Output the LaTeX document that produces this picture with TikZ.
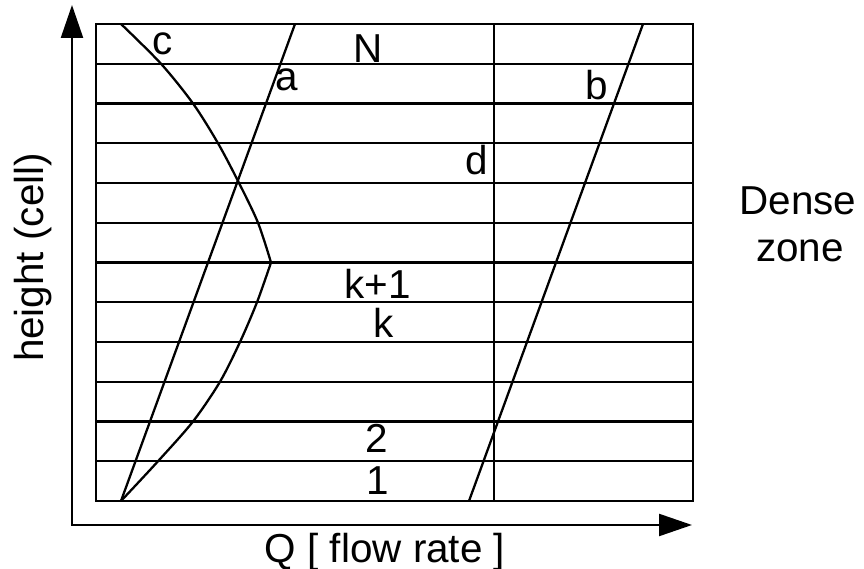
\documentclass[tikz,border=0pt]{standalone}
\usepackage{fontspec}
\setmainfont{Liberation Sans}
\usetikzlibrary{arrows.meta, positioning}

\begin{document}
\begin{tikzpicture}[
        x=1cm, y=1cm,
        grid/.style={line width=1.3pt, black},
        curve/.style={line width=1.3pt, black, line join=round},
        axis/.style={line width=1.3pt, black,
                     {Triangle[length=0.66cm,width=0.44cm]}-{Triangle[length=0.66cm,width=0.44cm]}},
        lbl/.style={inner sep=0pt, anchor=base, font=\fontsize{23}{27}\selectfont},
    ]

    \useasboundingbox (0,0) rectangle (17.28,11.38);

    % ---------- cells ------------------------------------------------------
    \coordinate (bl) at (1.92,1.36);
    \coordinate (tr) at (13.86,10.90);
    \draw[grid] (bl) rectangle (tr);
    \draw[grid] (1.92,2.155) -- (13.86,2.155);
    \draw[grid] (1.92,2.95)  -- (13.86,2.95);
    \draw[grid] (1.92,3.745) -- (13.86,3.745);
    \draw[grid] (1.92,4.54)  -- (13.86,4.54);
    \draw[grid] (1.92,5.335) -- (13.86,5.335);
    \draw[grid] (1.92,6.13)  -- (13.86,6.13);
    \draw[grid] (1.92,6.925) -- (13.86,6.925);
    \draw[grid] (1.92,7.72)  -- (13.86,7.72);
    \draw[grid] (1.92,8.515) -- (13.86,8.515);
    \draw[grid] (1.92,9.31)  -- (13.86,9.31);
    \draw[grid] (1.92,10.105) -- (13.86,10.105);

    % dense zone boundary
    \coordinate (dbot) at (9.88,1.36);
    \coordinate (dtop) at (9.88,10.90);
    \draw[grid] (dbot) -- (dtop);

    % ---------- profiles ---------------------------------------------------
    \coordinate (abot) at (2.42,1.36);
    \coordinate (atop) at (5.90,10.90);
    \draw[curve] (abot) -- (atop);

    \coordinate (bbot) at (9.38,1.36);
    \coordinate (btop) at (12.86,10.90);
    \draw[curve] (bbot) -- (btop);

    \coordinate (cpeak) at (5.42,6.13);
    \draw[curve] plot[smooth] coordinates {(abot) (3.16,2.155) (3.86,2.95) (4.40,3.745)
                                           (4.80,4.54) (5.14,5.335) (cpeak)};
    \draw[curve] plot[smooth] coordinates {(cpeak) (5.16,6.925) (4.78,7.72) (4.36,8.515)
                                           (3.86,9.31) (3.22,10.105) (2.42,10.90)};

    % ---------- axes -------------------------------------------------------
    \coordinate (ytip) at (1.44,11.28);
    \coordinate (xtip) at (13.84,0.88);
    \draw[axis] (ytip) |- (xtip);

    % ---------- labels -----------------------------------------------------
    \node[lbl] (clbl)  at (3.26,10.28) {c};
    \node[lbl] (albl)  at (5.74,9.56)  {a};
    \node[lbl] (nlbl)  at (7.36,10.12) {N};
    \node[lbl] (blbl)  at (11.94,9.38) {b};
    \node[lbl] (dlbl)  at (9.54,7.88)  {d};
    \node[lbl] (kplbl) at (7.55,5.40)  {k+1};
    \node[lbl] (klbl)  at (7.67,4.62)  {k};
    \node[lbl] (twolbl) at (7.54,2.32) {2};
    \node[lbl] (onelbl) at (7.56,1.48) {1};

    \node[lbl] (dense) at (15.96,7.08) {Dense};
    \node[lbl] (zone)  at (16.00,6.14) {zone};

    \node[lbl, rotate=90] (ylbl) at (0.86,6.23) {height (cell)};
    \node[lbl] (xlbl) at (7.70,0.12) {Q [ flow rate ]};

\end{tikzpicture}
\end{document}
